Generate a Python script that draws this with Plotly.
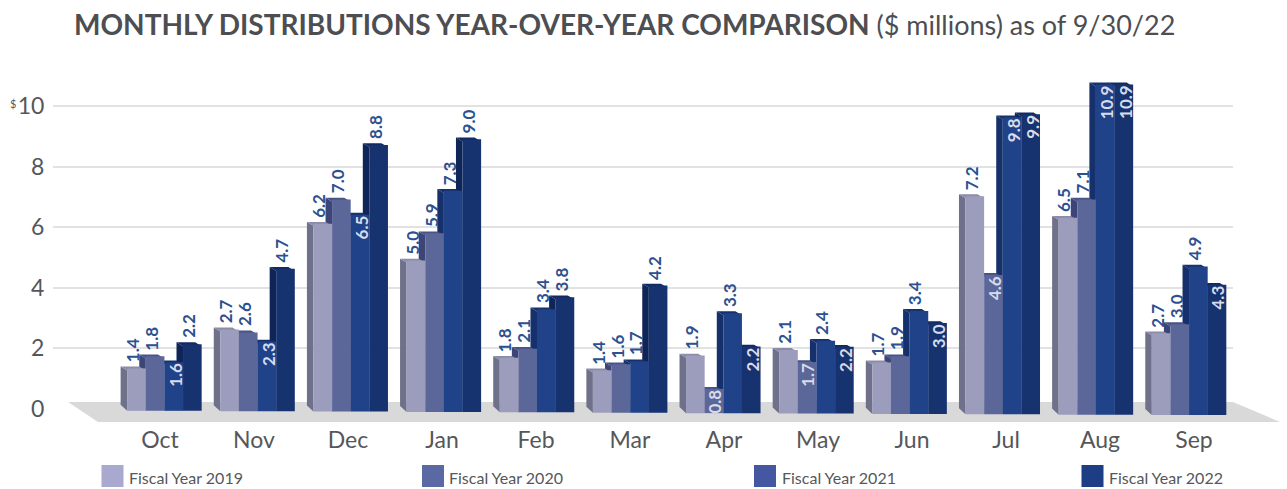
import plotly.graph_objects as go

MONTHS = ["Oct", "Nov", "Dec", "Jan", "Feb", "Mar", "Apr", "May", "Jun", "Jul", "Aug", "Sep"]
FY2019 = [1.4, 2.7, 6.2, 5.0, 1.8, 1.4, 1.9, 2.1, 1.7, 7.2, 6.5, 2.7]
FY2020 = [1.8, 2.6, 7.0, 5.9, 2.1, 1.6, 0.8, 1.7, 1.9, 4.6, 7.1, 3.0]
FY2021 = [1.6, 2.3, 6.5, 7.3, 3.4, 1.7, 3.3, 2.4, 3.4, 9.8, 10.9, 4.9]
FY2022 = [2.2, 4.7, 8.8, 9.0, 3.8, 4.2, 2.2, 2.2, 3.0, 9.9, 10.9, 4.3]
SERIES = [("Fiscal Year 2019", FY2019), ("Fiscal Year 2020", FY2020),
          ("Fiscal Year 2021", FY2021), ("Fiscal Year 2022", FY2022)]
Y_TICKS = [0, 2, 4, 6, 8, 10]
Y_TEXT = ["0", "2", "4", "6", "8", "10"]
# (series index, month index) whose label sits inside the bar
INSIDE = {(2, 0), (2, 1), (2, 2), (1, 6), (3, 6), (1, 7), (3, 7), (3, 8),
          (1, 9), (2, 9), (3, 9), (2, 10), (3, 10), (3, 11)}

FRONT = ["#9c9dbd", "#5b6699", "#1f4289", "#16326f"]
SIDE = ["#6f7089", "#3d4576", "#15306a", "#0f2558"]
CAP = ["#8b8ca8", "#4a5386", "#17316c", "#122a62"]
SWATCH = ["#a9a9cf", "#5a69a3", "#4358a0", "#1d3d85"]
SWATCH_X = [101.5, 422, 754, 1081.5]
GREY = "#55575a"
FONT = "Lato"

W, H = 1287, 489
L, R, T, B = 53, 1233, 70, 419
Y0_PX, Y_SCALE = 409, 30.3
X0_PX, X_SCALE = 164.4, 93.15
BAR_W = 0.2
SIDE_DX = 0.07
DEPTH = 0.13
BASE_LIFT = 0.2
TILT = 0.14

def pxx(p):
    return (p - L) / (R - L)

def pxy(p):
    return (B - p) / (B - T)

fig = go.Figure()
annots = [dict(xref="paper", yref="paper", x=pxx(13), y=pxy(103), text="$", showarrow=False,
               xanchor="center", yanchor="middle", font=dict(family=FONT, size=11, color=GREY))]
n = len(MONTHS)
for s in range(3, -1, -1):
    name, vals = SERIES[s]
    drift = [TILT * i / (n - 1) for i in range(n)]
    xsx, xsy, cx, cy = [], [], [], []
    for i, v in enumerate(vals):
        x0 = i + (s - 2) * BAR_W
        base = -drift[i] - DEPTH + 0.07
        vb = v - drift[i]
        vf = vb - DEPTH
        xsx += [x0 - SIDE_DX, x0, x0, x0 - SIDE_DX, None]
        xsy += [vb, vf, base, base + BASE_LIFT, None]
        cx += [x0 - SIDE_DX, x0 + BAR_W - SIDE_DX, x0 + BAR_W, x0, None]
        cy += [vb, vb, vf, vf, None]
        inside = (s, i) in INSIDE
        annots.append(dict(
            x=x0 + BAR_W / 2 + (0.01 if inside else -0.04),
            y=vb - 0.02 if inside else vb + 0.07,
            text=f"{v:.1f}", textangle=-90, showarrow=False,
            yanchor="top" if inside else "bottom", xanchor="center",
            font=dict(family=FONT, size=17, weight=700,
                      color="#d7dbea" if inside else "#2b5191")))
    z = 2 * (3 - s) + 1
    fig.add_trace(go.Scatter(x=xsx, y=xsy, mode="lines", fill="toself", fillcolor=SIDE[s],
                             line=dict(width=0), hoverinfo="skip", showlegend=False, zorder=z))
    fig.add_trace(go.Scatter(x=cx, y=cy, mode="lines", fill="toself", fillcolor=CAP[s],
                             line=dict(width=0), hoverinfo="skip", showlegend=False, zorder=z))
    fig.add_trace(go.Bar(x=[i + (s - 2) * BAR_W + BAR_W / 2 for i in range(n)], y=vals,
                         base=[-d - DEPTH + 0.07 for d in drift], width=BAR_W, name=name,
                         marker=dict(color=FRONT[s], line=dict(width=0)),
                         showlegend=False, zorder=z + 1))

shapes = [dict(type="path", xref="paper", yref="paper", layer="below", line=dict(width=0),
               fillcolor="#d9d9d9",
               path=f"M {pxx(68)} {pxy(402)} L {pxx(1233)} {pxy(402)} L {pxx(1280)} {pxy(422)} L {pxx(98)} {pxy(422)} Z")]
for (name, _), col, sx in zip(SERIES, SWATCH, SWATCH_X):
    shapes.append(dict(type="rect", xref="paper", yref="paper", line=dict(width=0), fillcolor=col,
                       x0=pxx(sx), x1=pxx(sx + 22), y0=pxy(487), y1=pxy(465)))
    annots.append(dict(xref="paper", yref="paper", x=pxx(sx + 25.5), y=pxy(477), text=name,
                       showarrow=False, xanchor="left", yanchor="middle",
                       font=dict(family=FONT, size=16, color=GREY)))

fig.update_layout(
    width=W, height=H, margin=dict(l=L, r=W - R, t=T, b=H - B, pad=0, autoexpand=False),
    paper_bgcolor="white", plot_bgcolor="white", barmode="overlay", showlegend=False,
    title=dict(text="<b>MONTHLY DISTRIBUTIONS YEAR-OVER-YEAR COMPARISON</b>"
                    "<span style='font-size:27px'> ($ millions) as of 9/30/22</span>",
               x=74 / W, xanchor="left", xref="container", y=1 - 25 / H, yanchor="middle", yref="container",
               font=dict(family=FONT, size=28, color="#4c4e52")),
    shapes=shapes, annotations=annots,
    xaxis=dict(range=[(L - X0_PX) / X_SCALE, (R - X0_PX) / X_SCALE], automargin=False,
               tickmode="array", tickvals=[(160 + 94 * i - X0_PX) / X_SCALE for i in range(n)],
               ticktext=MONTHS, showgrid=False, zeroline=False, showline=False,
               ticks="outside", ticklen=0, tickcolor="rgba(0,0,0,0)",
               tickfont=dict(family=FONT, size=23, color=GREY)),
    yaxis=dict(range=[(Y0_PX - B) / Y_SCALE, (Y0_PX - T) / Y_SCALE], automargin=False,
               tickmode="array", tickvals=Y_TICKS, ticktext=Y_TEXT,
               gridcolor="#e2e2e2", gridwidth=2, zeroline=True, zerolinecolor="rgba(0,0,0,0)",
               showline=False, ticks="outside", ticklen=3, tickcolor="rgba(0,0,0,0)",
               tickfont=dict(family=FONT, size=23, color=GREY)),
)
fig.write_html("out.html", config={"displayModeBar": False},
               post_script="document.body.style.margin='0';")
